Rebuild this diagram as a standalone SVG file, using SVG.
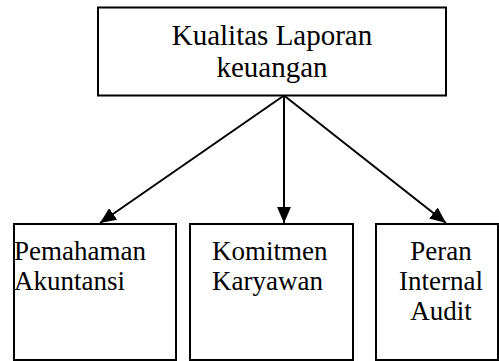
<svg xmlns="http://www.w3.org/2000/svg" width="499" height="361" viewBox="0 0 499 361">
<style>
.box{fill:#fff;stroke:#000;stroke-width:2}
.t{font-family:'Liberation Serif','Times New Roman',serif;fill:#000}
.c{stroke:#000;stroke-width:2;fill:none}
</style>
<defs>
<marker id="ah" markerWidth="16" markerHeight="14" refX="16" refY="7" orient="auto" markerUnits="userSpaceOnUse">
<path d="M0,0 L16,7 L0,14 Z" fill="#000"/>
</marker>
</defs>
<rect width="499" height="361" fill="#fff"/>
<g id="connectors">
<line class="c" x1="284" y1="95.5" x2="100" y2="223" marker-end="url(#ah)"/>
<line class="c" x1="284" y1="95.5" x2="284" y2="223" marker-end="url(#ah)"/>
<line class="c" x1="284" y1="95.5" x2="446" y2="223" marker-end="url(#ah)"/>
</g>
<g id="kualitas">
<rect class="box" x="98" y="7.5" width="348" height="88"/>
<text class="t" font-size="29" x="272" y="45" text-anchor="middle">Kualitas Laporan</text>
<text class="t" font-size="29" x="272" y="77" text-anchor="middle">keuangan</text>
</g>
<g id="pemahaman">
<rect class="box" x="14" y="224" width="162" height="136"/>
<text class="t" font-size="27" x="14" y="260">Pemahaman</text>
<text class="t" font-size="27" x="14" y="290">Akuntansi</text>
</g>
<g id="komitmen">
<rect class="box" x="190" y="224" width="163" height="136"/>
<text class="t" font-size="27" x="212" y="260">Komitmen</text>
<text class="t" font-size="27" x="212" y="290">Karyawan</text>
</g>
<g id="peran">
<rect class="box" x="376" y="224" width="122" height="136"/>
<text class="t" font-size="27" x="441" y="260" text-anchor="middle">Peran</text>
<text class="t" font-size="27" x="441" y="290" text-anchor="middle">Internal</text>
<text class="t" font-size="27" x="441" y="320" text-anchor="middle">Audit</text>
</g>
</svg>
